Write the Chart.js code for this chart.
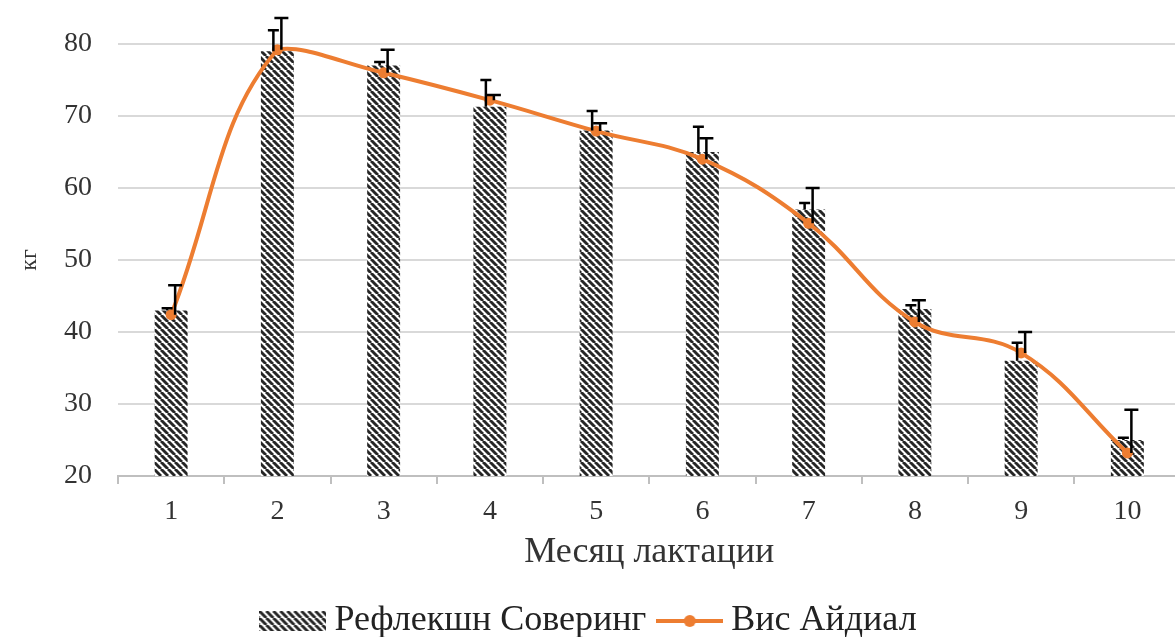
<!DOCTYPE html>
<html>
<head>
<meta charset="utf-8">
<script src="https://cdn.jsdelivr.net/npm/chart.js@4/dist/chart.umd.min.js"></script>
<style>
  html, body { margin: 0; background: #fff; overflow: hidden; }
  canvas { display: block; }
</style>
</head>
<body>
<canvas id="lactationChart" width="1186" height="649"></canvas>
<script>
const months = ['1', '2', '3', '4', '5', '6', '7', '8', '9', '10'];
const reflectionValues = [43, 79, 77, 71.3, 68, 65, 57, 43.2, 36, 25];
const reflectionErrors = [0.3, 2.9, 0.5, 3.7, 2.7, 3.5, 0.9, 0.5, 2.5, 0.3];
const wisValues = [42.4, 79.2, 76, 72.2, 67.9, 64, 55.1, 41.4, 37.1, 23.2];
const wisErrors = [4.1, 4.4, 3.2, 0.7, 1.1, 2.9, 4.9, 3.0, 2.9, 6.0];
const yTicks = [20, 30, 40, 50, 60, 70, 80];

const serif = '"Liberation Serif", "Times New Roman", serif';
const orange = '#ED7D31';

// hatch pattern for the bars
function makeHatch() {
    const size = 7;
    const c = document.createElement('canvas');
    c.width = size; c.height = size;
    const g = c.getContext('2d');
    g.fillStyle = '#fff';
    g.fillRect(0, 0, size, size);
    g.strokeStyle = '#262626';
    g.lineWidth = 2.9;
    g.beginPath();
    for (let k = -1; k <= 1; k++) {
        g.moveTo(k * size, 0);
        g.lineTo(k * size + size, size);
    }
    g.stroke();
    return g.createPattern(c, 'repeat');
}
const hatch = makeHatch();

// legend swatches
function barSwatch() {
    const c = document.createElement('canvas');
    c.width = 67; c.height = 20;
    const g = c.getContext('2d');
    g.fillStyle = hatch;
    g.fillRect(0, 0, 67, 20);
    return c;
}
function lineSwatch() {
    const c = document.createElement('canvas');
    c.width = 67; c.height = 14;
    const g = c.getContext('2d');
    g.strokeStyle = orange;
    g.lineWidth = 4;
    g.beginPath(); g.moveTo(0, 7); g.lineTo(67, 7); g.stroke();
    g.fillStyle = orange;
    g.beginPath(); g.arc(33.5, 7, 6, 0, Math.PI * 2); g.fill();
    return c;
}

// draw plus-direction error bars from the arrays
const errorBars = {
    id: 'errorBars',
    afterDatasetsDraw(chart) {
        const ctx = chart.ctx;
        const xs = chart.scales.x, ys = chart.scales.y;
        ctx.save();
        ctx.strokeStyle = '#000';
        ctx.lineWidth = 2.5;
        const draw = (vals, errs, dx, cap) => {
            vals.forEach((v, i) => {
                const px = xs.getPixelForValue(i) + dx;
                const y0 = ys.getPixelForValue(v);
                const y1 = ys.getPixelForValue(v + errs[i]);
                ctx.beginPath();
                ctx.moveTo(px, y0); ctx.lineTo(px, y1);
                ctx.moveTo(px - cap / 2, y1); ctx.lineTo(px + cap / 2, y1);
                ctx.stroke();
            });
        };
        draw(reflectionValues, reflectionErrors, -4, 11);
        draw(wisValues, wisErrors, 4, 14);
        ctx.restore();
    }
};

const chart = new Chart(document.getElementById('lactationChart'), {
    type: 'bar',
    data: {
        labels: months,
        datasets: [{
            type: 'line',
            label: 'Вис Айдиал',
            data: wisValues,
            borderColor: orange,
            backgroundColor: orange,
            borderWidth: 4,
            pointRadius: 5.5,
            pointBackgroundColor: orange,
            pointBorderWidth: 0,
            tension: 0.4,
            clip: false,
            order: 0
        }, {
            type: 'bar',
            label: 'Рефлекшн Соверинг',
            data: reflectionValues,
            backgroundColor: hatch,
            borderWidth: 0,
            categoryPercentage: 1,
            barPercentage: 0.31,
            order: 1
        }]
    },
    options: {
        responsive: false,
        animation: false,
        layout: { padding: { top: 44, right: 0, bottom: 0, left: 0 } },
        plugins: {
            tooltip: { enabled: false },
            legend: {
                position: 'bottom',
                labels: {
                    usePointStyle: true,
                    pointStyleWidth: 47,
                    padding: 20,
                    color: '#222',
                    font: { family: serif, size: 36 },
                    generateLabels: () => [
                        { text: 'Рефлекшн Соверинг', pointStyle: barSwatch(), fontColor: '#222', lineWidth: 0, datasetIndex: 1 },
                        { text: 'Вис Айдиал', pointStyle: lineSwatch(), fontColor: '#222', lineWidth: 0, datasetIndex: 0 }
                    ]
                }
            }
        },
        scales: {
            x: {
                offset: true,
                border: { color: '#bfbfbf', width: 2 },
                grid: { drawOnChartArea: false, offset: true, tickLength: 8, color: '#bfbfbf', lineWidth: 2 },
                ticks: { color: '#333', padding: 11, font: { family: serif, size: 28 } },
                title: {
                    display: true,
                    text: 'Месяц лактации',
                    color: '#333',
                    padding: { top: 0, bottom: 9 },
                    font: { family: serif, size: 36 }
                },
                afterFit(scale) { scale.height = 107; }
            },
            y: {
                min: 20,
                max: 80,
                afterBuildTicks(scale) { scale.ticks = yTicks.map(v => ({ value: v })); },
                border: { display: false },
                grid: { color: (c) => c.tick.value === 20 ? 'rgba(0,0,0,0)' : '#d9d9d9', lineWidth: 2, drawTicks: false },
                ticks: { color: '#333', padding: 26, font: { family: serif, size: 28 } },
                title: {
                    display: true,
                    text: 'кг',
                    color: '#333',
                    padding: { top: 15, bottom: 0 },
                    font: { family: serif, size: 24 }
                },
                afterFit(scale) { scale.width = 118; }
            }
        }
    },
    plugins: [errorBars]
});
</script>
</body>
</html>
